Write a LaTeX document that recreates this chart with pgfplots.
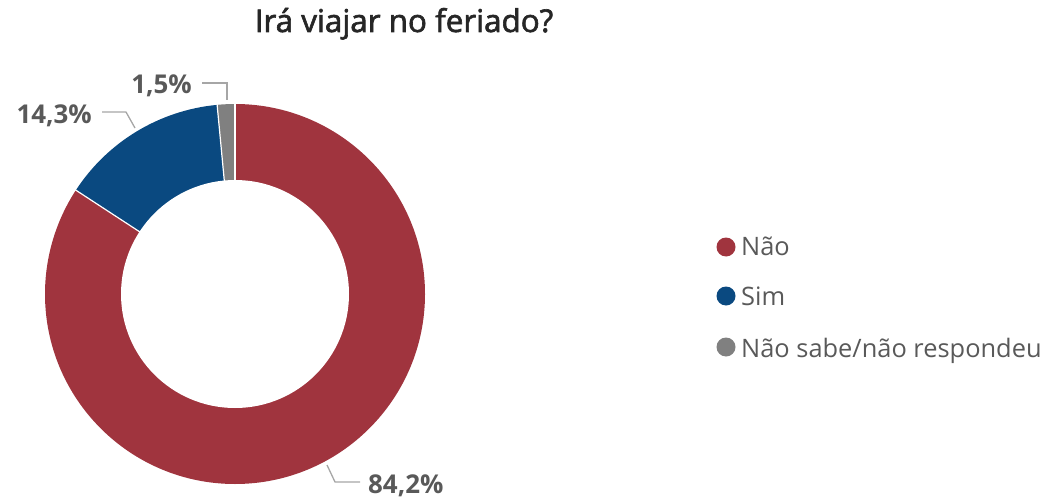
\documentclass[border=0pt]{standalone}
\usepackage{fontspec}
\setmainfont{Open Sans}
\newfontfamily\titlefont[FakeBold=2]{Open Sans}
\usepackage{pgfplots}
\usepackage{pgfplotstable}
\pgfplotsset{compat=1.18}
\definecolor{nao}{RGB}{160, 52, 62}
\definecolor{sim}{RGB}{10, 73, 128}
\definecolor{nsnr}{RGB}{128, 128, 128}
\definecolor{lbl}{RGB}{89, 89, 89}
\definecolor{lead}{RGB}{166, 166, 166}
\definecolor{ttl}{RGB}{38, 38, 38}

\pgfplotstableread{
label value
Nao 84.2
Sim 14.3
NSNR 1.5
}\votos

\begin{document}
\begin{tikzpicture}
\pgfplotstablegetelem{0}{value}\of\votos \let\va\pgfplotsretval
\pgfplotstablegetelem{1}{value}\of\votos \let\vb\pgfplotsretval
\pgfplotstablegetelem{2}{value}\of\votos \let\vc\pgfplotsretval
\pgfmathsetmacro\aA{90}
\pgfmathsetmacro\aB{\aA-3.6*\va}
\pgfmathsetmacro\aC{\aB-3.6*\vb}
\pgfmathsetmacro\aD{\aC-3.6*\vc}
\begin{axis}[
  width=1044bp, height=499bp, scale only axis,
  xmin=0, xmax=1044, ymin=0, ymax=499, y dir=reverse,
  hide axis, clip=false,
]
\path (axis cs:0,0) rectangle (axis cs:1044,499);
\coordinate (C) at (axis cs:235,294);
% wedges
\fill[nao] (C) -- ++(\aA:190bp) arc[start angle=\aA, end angle=\aB, radius=190bp] -- cycle;
\fill[sim] (C) -- ++(\aB:190bp) arc[start angle=\aB, end angle=\aC, radius=190bp] -- cycle;
\fill[nsnr] (C) -- ++(\aC:190bp) arc[start angle=\aC, end angle=\aD, radius=190bp] -- cycle;
\draw[white, line width=1.2bp] (C) -- ++(\aA:191bp);
\draw[white, line width=1.2bp] (C) -- ++(\aB:191bp);
\draw[white, line width=1.2bp] (C) -- ++(\aC:191bp);
\fill[white] (C) circle[radius=114bp];
% leader lines
\draw[lead, line width=1.3bp] (axis cs:202,83) -- (axis cs:227,83) -- (axis cs:227,100);
\draw[lead, line width=1.3bp] (axis cs:102,112) -- (axis cs:126,112) -- (axis cs:135,128);
\draw[lead, line width=1.3bp] (axis cs:327,465) -- (axis cs:335,482) -- (axis cs:360,482);
% data labels
\node[anchor=base east, text=lbl, font=\fontsize{26}{30}\selectfont\bfseries, inner sep=0pt] at (axis cs:192,93) {1,5\%};
\node[anchor=base east, text=lbl, font=\fontsize{26}{30}\selectfont\bfseries, inner sep=0pt] at (axis cs:92,123) {14,3\%};
\node[anchor=base west, text=lbl, font=\fontsize{26}{30}\selectfont\bfseries, inner sep=0pt] at (axis cs:368,493) {84,2\%};
% title
\node[anchor=base, text=ttl, font=\fontsize{31.5}{35}\titlefont, inner sep=0pt] at (axis cs:404,32) {Irá viajar no feriado?};
% legend
\fill[nao] (axis cs:726,247) circle[radius=9.5bp];
\fill[sim] (axis cs:726,296) circle[radius=9.5bp];
\fill[nsnr] (axis cs:726,347) circle[radius=9.5bp];
\node[anchor=base west, text=lbl, font=\fontsize{25.5}{30}\selectfont, inner sep=0pt] at (axis cs:741,255) {Não};
\node[anchor=base west, text=lbl, font=\fontsize{25.5}{30}\selectfont, inner sep=0pt] at (axis cs:741,305) {Sim};
\node[anchor=base west, text=lbl, font=\fontsize{25.5}{30}\selectfont, inner sep=0pt] at (axis cs:741,357) {Não sabe/não respondeu};
\end{axis}
\end{tikzpicture}
\end{document}
